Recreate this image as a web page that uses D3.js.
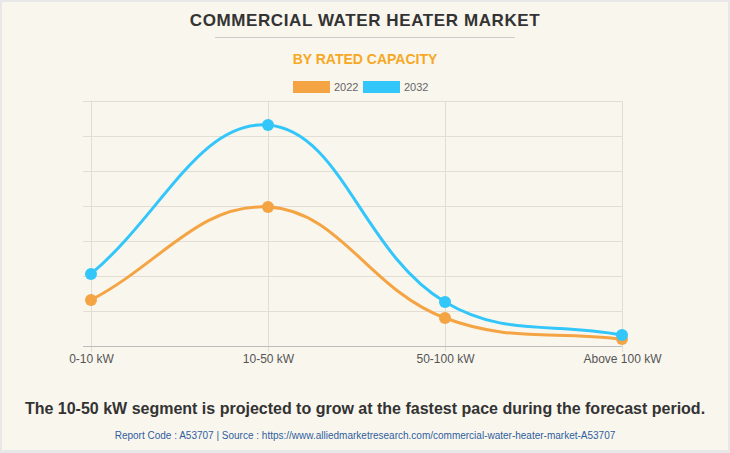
<!DOCTYPE html>
<html>
<head>
<meta charset="utf-8">
<script src="https://cdn.jsdelivr.net/npm/d3@7"></script>
<style>
html,body{margin:0;padding:0;background:#fff;}
svg{display:block;font-family:"Liberation Sans",Arial,Helvetica,sans-serif;}
</style>
</head>
<body>
<svg id="chart" width="730" height="453"></svg>
<script>
const categories = ["0-10 kW", "10-50 kW", "50-100 kW", "Above 100 kW"];
const years = ["2022", "2032"];
const values2022 = [657, 1986, 400, 100];
const values2032 = [1029, 3157, 629, 157];
const yTicks = [0, 500, 1000, 1500, 2000, 2500, 3000, 3500];

const colors = {"2022": "#F4A443", "2032": "#33C6FA"};
const seriesData = [
  {name: "2022", values: values2022},
  {name: "2032", values: values2032}
];

const W = 730, H = 453;
const svg = d3.select("#chart");
svg.append("rect").attr("width", W).attr("height", H).attr("fill", "#E8E8E8");
svg.append("rect").attr("x", 2).attr("y", 2).attr("width", W - 4).attr("height", H - 5).attr("fill", "#F9F6EE");

const pLeft = 91, pRight = 622, pTop = 101, pBottom = 346;
const x = d3.scalePoint().domain(categories).range([pLeft, pRight]).padding(0);
const y = d3.scaleLinear().domain([0, 3500]).range([pBottom, pTop]);

// Title
svg.append("text").attr("x", 365).attr("y", 26).attr("text-anchor", "middle")
  .attr("font-size", 17).attr("font-weight", "bold").attr("fill", "#333")
  .attr("letter-spacing", 0.6).text("COMMERCIAL WATER HEATER MARKET");
svg.append("line").attr("x1", 215).attr("x2", 515).attr("y1", 37.5).attr("y2", 37.5)
  .attr("stroke", "#CCCCCC").attr("stroke-width", 1);
svg.append("text").attr("x", 365).attr("y", 64).attr("text-anchor", "middle")
  .attr("font-size", 14).attr("font-weight", "bold").attr("fill", "#F7A823")
  .text("BY RATED CAPACITY");

// Legend
const legendX = [293, 363];
years.forEach((yr, i) => {
  svg.append("rect").attr("x", legendX[i]).attr("y", 81).attr("width", 37).attr("height", 12)
    .attr("fill", colors[yr]);
  svg.append("text").attr("x", legendX[i] + 41).attr("y", 91).attr("font-size", 11)
    .attr("fill", "#666").text(yr);
});

// Grid
const g = svg.append("g");
g.selectAll(".hg").data(yTicks.filter(t => t > 0)).join("line")
  .attr("x1", pLeft - 8).attr("x2", pRight).attr("y1", d => Math.round(y(d)) + 0.5).attr("y2", d => Math.round(y(d)) + 0.5)
  .attr("stroke", "#E2DED6").attr("stroke-width", 1);
g.selectAll(".vg").data(categories).join("line")
  .attr("x1", d => x(d) + 0.5).attr("x2", d => x(d) + 0.5).attr("y1", pTop).attr("y2", pBottom + 6)
  .attr("stroke", "#E2DED6").attr("stroke-width", 1);
g.append("line").attr("x1", pLeft - 8).attr("x2", pRight).attr("y1", pBottom + 0.5).attr("y2", pBottom + 0.5)
  .attr("stroke", "#BDBDBD").attr("stroke-width", 1);

// X axis labels
const xAxis = d3.axisBottom(x).tickSize(0).tickPadding(0);
const ax = svg.append("g").attr("transform", `translate(0,${pBottom + 6})`).call(xAxis);
ax.select(".domain").remove();
ax.selectAll("text").attr("font-size", 12).attr("fill", "#555")
  .attr("font-family", "'Liberation Sans',Arial,sans-serif").attr("dy", "0.95em");

// Chart.js-like bezier (tension 0.4)
function splinePath(pts, t) {
  const cps = pts.map((p, i) => {
    const prev = pts[i - 1] || p, next = pts[i + 1] || p;
    const d01 = Math.hypot(p[0] - prev[0], p[1] - prev[1]);
    const d12 = Math.hypot(next[0] - p[0], next[1] - p[1]);
    let s01 = d01 / (d01 + d12), s12 = d12 / (d01 + d12);
    if (isNaN(s01)) s01 = 0; if (isNaN(s12)) s12 = 0;
    const fa = t * s01, fb = t * s12;
    return {
      prev: [p[0] - fa * (next[0] - prev[0]), p[1] - fa * (next[1] - prev[1])],
      next: [p[0] + fb * (next[0] - prev[0]), p[1] + fb * (next[1] - prev[1])]
    };
  });
  const clampY = v => Math.max(pTop, Math.min(pBottom, v));
  let d = `M${pts[0][0]},${pts[0][1]}`;
  for (let i = 1; i < pts.length; i++) {
    const c1 = cps[i - 1].next, c2 = cps[i].prev;
    d += `C${c1[0]},${clampY(c1[1])},${c2[0]},${clampY(c2[1])},${pts[i][0]},${pts[i][1]}`;
  }
  return d;
}

seriesData.forEach(s => {
  const pts = categories.map((c, i) => [x(c), y(s.values[i])]);
  svg.append("path").attr("d", splinePath(pts, 0.4)).attr("fill", "none")
    .attr("stroke", colors[s.name]).attr("stroke-width", 3);
});
seriesData.forEach(s => {
  svg.append("g").selectAll("circle").data(s.values).join("circle")
    .attr("cx", (d, i) => x(categories[i])).attr("cy", d => y(d)).attr("r", 6)
    .attr("fill", colors[s.name]);
});

// Footer
svg.append("text").attr("x", 365).attr("y", 414).attr("text-anchor", "middle")
  .attr("font-size", 16).attr("font-weight", "bold").attr("fill", "#333")
  .text("The 10-50 kW segment is projected to grow at the fastest pace during the forecast period.");
svg.append("text").attr("x", 365).attr("y", 439).attr("text-anchor", "middle")
  .attr("font-size", 10).attr("fill", "#2F5E9E")
  .text("Report Code : A53707  |  Source : https://www.alliedmarketresearch.com/commercial-water-heater-market-A53707");
</script>
</body>
</html>
